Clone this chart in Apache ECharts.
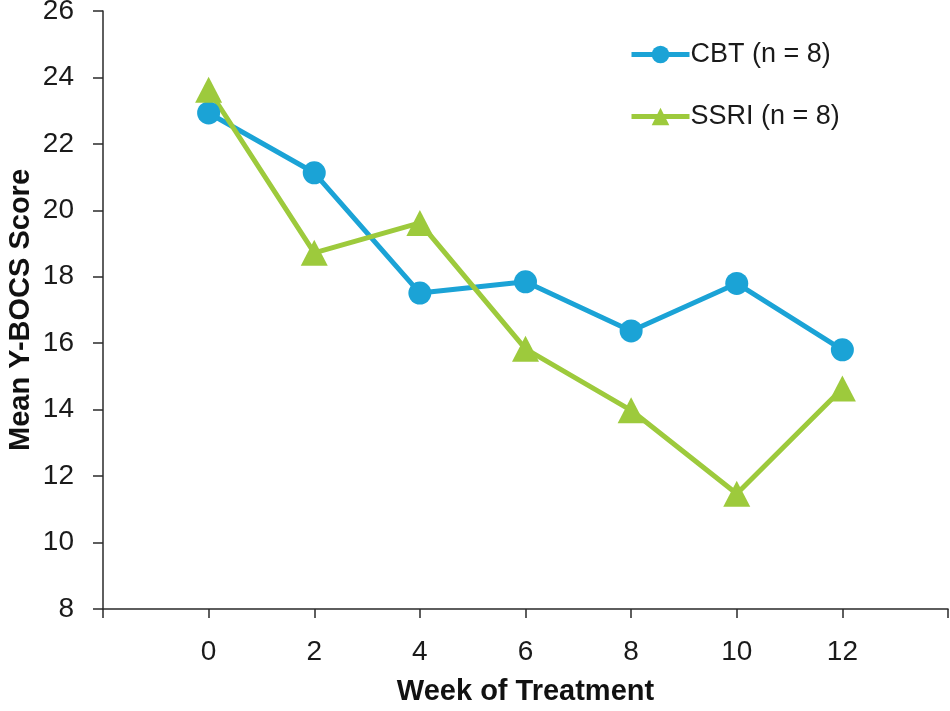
<!DOCTYPE html>
<html>
<head>
<meta charset="utf-8">
<script src="https://cdn.jsdelivr.net/npm/echarts@6/dist/echarts.min.js"></script>
<style>
  html, body { margin: 0; padding: 0; background: #ffffff; }
  #main { width: 950px; height: 711px; }
</style>
</head>
<body>
<div id="main"></div>
<script>
// weeks (blank slots at both ends give the padding ticks)
var weeks = ['', '0', '2', '4', '6', '8', '10', '12', ''];
var cbt = [null, 22.93, 21.13, 17.51, 17.85, 16.37, 17.80, 15.80, null];
var ssri = [null, 23.63, 18.72, 19.62, 15.83, 13.98, 11.47, 14.64, null];
var seriesNames = ['CBT (n = 8)', 'SSRI (n = 8)'];

var chart = echarts.init(document.getElementById('main'));

var fontFam = 'Liberation Sans, Arial, sans-serif';

chart.setOption({
  backgroundColor: '#ffffff',
  animation: false,
  color: ['#1ba3d6', '#9dca3c'],
  grid: {
    left: 103,
    right: 2,
    top: 11,
    bottom: 102,
    containLabel: false,
    outerBoundsMode: 'none'
  },
  legend: {
    orient: 'vertical',
    left: 624,
    top: 36,
    itemWidth: 58,
    itemHeight: 22,
    itemGap: 35,
    data: seriesNames,
    lineStyle: { width: 5 },
    textStyle: {
      fontFamily: fontFam,
      fontSize: 27,
      color: '#1a1a1a',
      padding: [0, 0, 0, -4]
    }
  },
  xAxis: {
    type: 'category',
    data: weeks,
    boundaryGap: false,
    name: 'Week of Treatment',
    nameLocation: 'middle',
    nameGap: 68,
    nameMoveOverlap: false,
    nameTextStyle: {
      fontFamily: fontFam,
      fontSize: 29,
      fontWeight: 'bold',
      color: '#111'
    },
    axisLine: { lineStyle: { color: '#2a2a2a', width: 1.5 } },
    axisTick: { show: true, length: 9, interval: 0, lineStyle: { color: '#2a2a2a', width: 1.5 } },
    axisLabel: {
      interval: 0,
      margin: 29,
      fontFamily: fontFam,
      fontSize: 28,
      color: '#1a1a1a'
    },
    splitLine: { show: false }
  },
  yAxis: {
    type: 'value',
    min: 8,
    max: 26,
    interval: 2,
    name: 'Mean Y-BOCS Score',
    nameLocation: 'middle',
    nameGap: 68,
    nameMoveOverlap: false,
    nameTextStyle: {
      fontFamily: fontFam,
      fontSize: 29,
      fontWeight: 'bold',
      color: '#111'
    },
    axisLine: { show: true, lineStyle: { color: '#2a2a2a', width: 1.5 } },
    axisTick: { show: true, length: 10, lineStyle: { color: '#2a2a2a', width: 1.5 } },
    axisLabel: {
      margin: 29,
      fontFamily: fontFam,
      fontSize: 28,
      color: '#1a1a1a'
    },
    splitLine: { show: false }
  },
  series: [
    {
      name: seriesNames[0],
      type: 'line',
      data: cbt,
      symbol: 'circle',
      symbolSize: 23,
      lineStyle: { width: 5 },
      connectNulls: false
    },
    {
      name: seriesNames[1],
      type: 'line',
      data: ssri,
      symbol: 'triangle',
      symbolSize: [27, 26],
      lineStyle: { width: 5 },
      connectNulls: false
    }
  ]
});
</script>
</body>
</html>
